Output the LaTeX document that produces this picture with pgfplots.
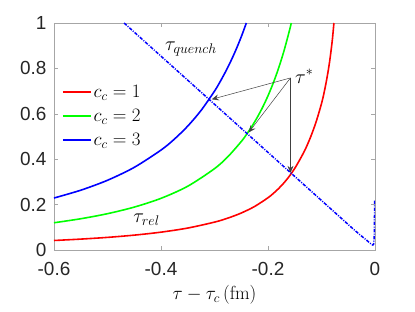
\RequirePackage{fix-cm}
\documentclass[border=0pt]{standalone}
\usepackage{pgfplots}
\pgfplotsset{compat=1.18}
\usepackage[no-math]{fontspec}
\setmainfont{Liberation Sans}
\usetikzlibrary{arrows.meta}
\definecolor{cred}{rgb}{1,0,0}
\definecolor{cgreen}{rgb}{0,1,0}
\definecolor{cblue}{rgb}{0,0,1}
\begin{document}
\begin{tikzpicture}
\path[use as bounding box] (-54bp,-62bp) rectangle (361bp,250bp);
\begin{axis}[
  at={(0,0)}, anchor=south west,
  scale only axis, width=321bp, height=227bp,
  xmin=-0.6, xmax=0, ymin=0, ymax=1,
  xtick={-0.6,-0.4,-0.2,0}, xticklabels={-0.6,-0.4,-0.2,0},
  ytick={0,0.2,0.4,0.6,0.8,1}, yticklabels={0,0.2,0.4,0.6,0.8,1},
  tick align=inside, major tick length=4bp,
  axis line style={gray!70}, tick style={gray!70, line width=0.5pt},
  tick label style={font=\fontsize{19}{22}\selectfont, text=black!85},
  yticklabel style={xshift=-4bp},
  xticklabel style={yshift=-9bp},
  xlabel={$\tau-\tau_c\,(\mathrm{fm})$},
  xlabel style={font=\fontsize{19}{22}\selectfont, yshift=-3bp},
  legend style={at={(0.015,0.745)}, anchor=north west, draw=none, fill=none,
    font=\fontsize{19}{23}\selectfont, row sep=6.5bp},
  legend cell align=left,
  legend image code/.code={\draw[mark repeat=2,mark phase=2,#1] plot coordinates {(0bp,0bp) (14bp,0bp) (28bp,0bp)};},
]
\addplot[color=cred, line width=1.6pt, smooth] coordinates {
(-0.6,0.0419) (-0.55,0.0480) (-0.5,0.0556) (-0.45,0.0655) (-0.4,0.0786)
(-0.35,0.0967) (-0.3,0.1228) (-0.275,0.1405) (-0.25,0.1629) (-0.225,0.1918)
(-0.2,0.2302) (-0.19,0.2493) (-0.18,0.2711) (-0.17,0.2962) (-0.16,0.3254)
(-0.15,0.3596) (-0.14,0.4002) (-0.13,0.445) (-0.12,0.50) (-0.11,0.565)
(-0.1,0.645) (-0.095,0.695) (-0.09,0.755) (-0.085,0.827) (-0.08,0.92) (-0.0768,1.0)};
\addlegendentry{$c_c=1$}
\addplot[color=cgreen, line width=1.6pt, smooth] coordinates {
(-0.6,0.120) (-0.55,0.1377) (-0.5,0.1600) (-0.45,0.1890) (-0.4,0.2276)
(-0.35,0.2810) (-0.3,0.3583) (-0.275,0.4110) (-0.25,0.4778) (-0.24,0.5096)
(-0.23,0.5450) (-0.22,0.5846) (-0.21,0.6290) (-0.2,0.6794) (-0.19,0.7367)
(-0.18,0.8024) (-0.17,0.8781) (-0.16,0.9661) (-0.1565,1.0)};
\addlegendentry{$c_c=2$}
\addplot[color=cblue, line width=1.6pt, smooth] coordinates {
(-0.6,0.229) (-0.55,0.2634) (-0.5,0.3072) (-0.45,0.3641) (-0.4,0.4402)
(-0.375,0.4884) (-0.35,0.5459) (-0.325,0.6152) (-0.3,0.6999) (-0.29,0.7393)
(-0.28,0.7824) (-0.27,0.8294) (-0.26,0.8815) (-0.25,0.9391) (-0.2405,1.0)};
\addlegendentry{$c_c=3$}
\addplot[color=cblue, line width=1.5pt, dash pattern=on 3.5pt off 1.3pt on 1pt off 1.3pt, forget plot] coordinates {
(-0.469,1.0) (-0.3,0.642) (-0.15,0.324) (-0.04,0.091) (-0.025,0.061) (-0.015,0.042)
(-0.0095,0.030) (-0.0065,0.024) (-0.004,0.022) (-0.0025,0.026) (-0.0015,0.05)
(-0.001,0.12) (-0.0008,0.223)};
\node[font=\fontsize{20}{22}\selectfont] at (axis cs:-0.344,0.885) {$\tau_{quench}$};
\node[font=\fontsize{20}{22}\selectfont] at (axis cs:-0.427,0.132) {$\tau_{rel}$};
\node[font=\fontsize{20}{22}\selectfont, anchor=west, inner sep=0pt] at (axis cs:-0.1495,0.765) {$\tau^*$};
\draw[black!75, line width=0.5pt, -{Stealth[length=7bp,width=6bp,inset=2.5bp]}] (axis cs:-0.158,0.758) -- (axis cs:-0.305,0.664);
\draw[black!75, line width=0.5pt, -{Stealth[length=7bp,width=6bp,inset=2.5bp]}] (axis cs:-0.158,0.758) -- (axis cs:-0.236,0.518);
\draw[black!75, line width=0.5pt, -{Stealth[length=7bp,width=6bp,inset=2.5bp]}] (axis cs:-0.158,0.758) -- (axis cs:-0.158,0.340);
\end{axis}
\end{tikzpicture}
\end{document}
